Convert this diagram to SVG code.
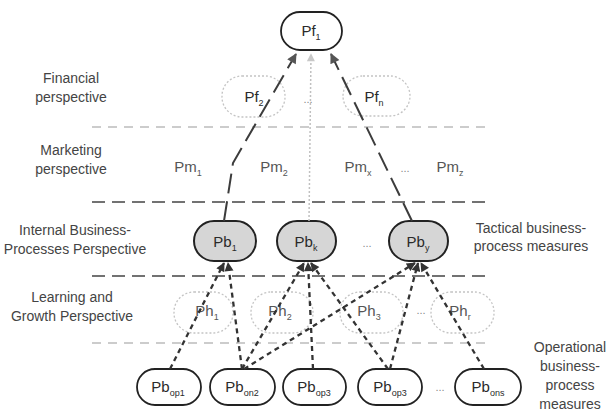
<svg xmlns="http://www.w3.org/2000/svg" width="612" height="414" viewBox="0 0 612 414">
  <style>
    .lbl { font-family: "Liberation Sans", Arial, sans-serif; font-size: 14px; fill: #444; text-anchor: middle; }
    .nt { font-family: "Liberation Sans", Arial, sans-serif; font-size: 15px; fill: #2a2a2a; text-anchor: middle; }
    .ng { font-family: "Liberation Sans", Arial, sans-serif; font-size: 15px; fill: #555; text-anchor: middle; }
    .sub { font-size: 9px; }
    .dots { font-family: "Liberation Sans", Arial, sans-serif; font-size: 11px; fill: #888; text-anchor: middle; }
    .solid { fill: #fff; stroke: #222; stroke-width: 1.8; }
    .tact { fill: #d6d6d6; stroke: #222; stroke-width: 2; }
    .faint { fill: none; stroke: #c4c4c4; stroke-width: 1.3; stroke-dasharray: 2 2; }
    .sep { stroke: #444; stroke-width: 1.4; stroke-dasharray: 13 7; }
    .sepl { stroke: #9a9a9a; stroke-width: 1.2; stroke-dasharray: 9 7; }
    .up { fill: none; stroke: #333; stroke-width: 2.3; stroke-dasharray: 5 4; marker-end: url(#ah); }
    .long { fill: none; stroke: #3c3c3c; stroke-width: 2; stroke-dasharray: 20 8; marker-end: url(#ahg); }
    .ctr { fill: none; stroke: #c0c0c0; stroke-width: 1.5; stroke-dasharray: 2 2; marker-end: url(#ahl); }
  </style>
  <defs>
    <marker id="ah" viewBox="0 0 10 10" refX="9" refY="5" markerWidth="11" markerHeight="9" markerUnits="userSpaceOnUse" orient="auto">
      <path d="M0,0 L10,5 L0,10 z" fill="#333"/>
    </marker>
    <marker id="ahg" viewBox="0 0 10 10" refX="9" refY="5" markerWidth="13" markerHeight="10" markerUnits="userSpaceOnUse" orient="auto">
      <path d="M0,0 L10,5 L0,10 z" fill="#555"/>
    </marker>
    <marker id="ahl" viewBox="0 0 10 10" refX="9" refY="5" markerWidth="10" markerHeight="8" markerUnits="userSpaceOnUse" orient="auto">
      <path d="M0,0 L10,5 L0,10 z" fill="#c8c8c8"/>
    </marker>
  </defs>

  <rect width="612" height="414" fill="#fff"/>

  <!-- layer labels -->
  <g id="labels">
    <text class="lbl" x="71" y="83">Financial</text>
    <text class="lbl" x="71" y="102">perspective</text>
    <text class="lbl" x="71" y="155">Marketing</text>
    <text class="lbl" x="71" y="174">perspective</text>
    <text class="lbl" x="75" y="235">Internal Business-</text>
    <text class="lbl" x="75" y="254">Processes Perspective</text>
    <text class="lbl" x="72" y="302">Learning and</text>
    <text class="lbl" x="72" y="321">Growth Perspective</text>
    <text class="lbl" x="531" y="233">Tactical business-</text>
    <text class="lbl" x="531" y="251">process measures</text>
    <text class="lbl" x="570" y="352">Operational</text>
    <text class="lbl" x="570" y="371">business-</text>
    <text class="lbl" x="570" y="390">process</text>
    <text class="lbl" x="570" y="409">measures</text>
  </g>

  <!-- layer separators -->
  <g id="separators">
    <line class="sepl" x1="92" y1="127" x2="488" y2="127"/>
    <line class="sep" x1="92" y1="202" x2="488" y2="202"/>
    <line class="sep" x1="92" y1="276" x2="488" y2="276"/>
    <line class="sepl" x1="92" y1="343" x2="488" y2="343"/>
  </g>

  <!-- financial layer -->
  <g id="pf1">
    <rect class="solid" x="281" y="12" width="61" height="38" rx="19"/>
    <text class="nt" x="311" y="36">Pf<tspan class="sub" dy="4">1</tspan></text>
  </g>
  <g id="pf2">
    <rect class="faint" x="222" y="76" width="63" height="41" rx="20"/>
    <text class="nt" x="254" y="102">Pf<tspan class="sub" dy="4">2</tspan></text>
  </g>
  <text class="dots" x="308" y="103">...</text>
  <g id="pfn">
    <rect class="faint" x="343" y="76" width="67" height="40" rx="20"/>
    <text class="nt" x="374" y="102">Pf<tspan class="sub" dy="4">n</tspan></text>
  </g>

  <!-- marketing layer -->
  <g id="pm1"><text class="ng" x="188" y="172">Pm<tspan class="sub" dy="4">1</tspan></text></g>
  <g id="pm2"><text class="ng" x="274" y="172">Pm<tspan class="sub" dy="4">2</tspan></text></g>
  <g id="pmx"><text class="ng" x="358" y="172">Pm<tspan class="sub" dy="4">x</tspan></text></g>
  <text class="dots" x="405" y="172">...</text>
  <g id="pmz"><text class="ng" x="450" y="172">Pm<tspan class="sub" dy="4">z</tspan></text></g>

  <!-- internal business-process layer -->
  <g id="pb1">
    <rect class="tact" x="194" y="221" width="62" height="40" rx="20"/>
    <text class="nt" x="225" y="247">Pb<tspan class="sub" dy="4">1</tspan></text>
  </g>
  <g id="pbk">
    <rect class="tact" x="277" y="221" width="59" height="40" rx="20"/>
    <text class="nt" x="306" y="247">Pb<tspan class="sub" dy="4">k</tspan></text>
  </g>
  <text class="dots" x="367" y="247">...</text>
  <g id="pby">
    <rect class="tact" x="389" y="221" width="59" height="40" rx="20"/>
    <text class="nt" x="418" y="247">Pb<tspan class="sub" dy="4">y</tspan></text>
  </g>

  <!-- learning and growth layer -->
  <g id="ph1">
    <rect class="faint" x="174" y="292" width="59" height="41" rx="20"/>
    <text class="ng" x="207" y="316">Ph<tspan class="sub" dy="4">1</tspan></text>
  </g>
  <g id="ph2">
    <rect class="faint" x="251" y="292" width="62" height="41" rx="20"/>
    <text class="ng" x="280" y="316">Ph<tspan class="sub" dy="4">2</tspan></text>
  </g>
  <g id="ph3">
    <rect class="faint" x="340" y="292" width="63" height="41" rx="20"/>
    <text class="ng" x="369" y="316">Ph<tspan class="sub" dy="4">3</tspan></text>
  </g>
  <text class="dots" x="421" y="314">...</text>
  <g id="phr">
    <rect class="faint" x="431" y="292" width="63" height="41" rx="20"/>
    <text class="ng" x="460" y="316">Ph<tspan class="sub" dy="4">r</tspan></text>
  </g>

  <!-- operational layer -->
  <g id="pbop1">
    <rect class="solid" x="137" y="369" width="64" height="36" rx="18"/>
    <text class="nt" x="168" y="392">Pb<tspan class="sub" dy="4">op1</tspan></text>
  </g>
  <g id="pbon2">
    <rect class="solid" x="210" y="369" width="65" height="36" rx="18"/>
    <text class="nt" x="242" y="392">Pb<tspan class="sub" dy="4">on2</tspan></text>
  </g>
  <g id="pbop3a">
    <rect class="solid" x="283" y="369" width="63" height="36" rx="18"/>
    <text class="nt" x="314" y="392">Pb<tspan class="sub" dy="4">op3</tspan></text>
  </g>
  <g id="pbop3b">
    <rect class="solid" x="358" y="369" width="64" height="36" rx="18"/>
    <text class="nt" x="390" y="392">Pb<tspan class="sub" dy="4">op3</tspan></text>
  </g>
  <text class="dots" x="440" y="391">...</text>
  <g id="pbons">
    <rect class="solid" x="455" y="369" width="66" height="36" rx="18"/>
    <text class="nt" x="488" y="392">Pb<tspan class="sub" dy="4">ons</tspan></text>
  </g>

  <!-- connectors -->
  <g id="connectors">
    <path class="ctr" d="M309,221 L311,54"/>
    <path class="long" d="M224,221 L233,163 L296,54"/>
    <path class="long" d="M412,221 L331,54"/>

    <path class="up" d="M170,369 L224,263"/>
    <path class="up" d="M242,369 L228,263"/>
    <path class="up" d="M242,369 L304,263"/>
    <path class="up" d="M313,369 L308,263"/>
    <path class="up" d="M388,369 L311,263"/>
    <path class="up" d="M244,369 L415,263"/>
    <path class="up" d="M390,369 L418,263"/>
    <path class="up" d="M484,369 L421,263"/>
  </g>
</svg>
